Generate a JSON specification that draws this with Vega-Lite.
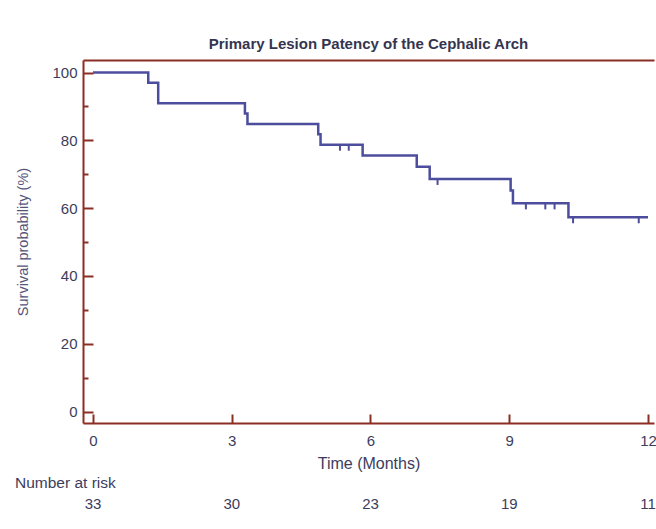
{
  "$schema": "https://vega.github.io/schema/vega-lite/v6.json",
  "padding": {"left": 15, "top": 37, "right": 0, "bottom": 0},
  "background": "white",
  "spacing": 4,
  "config": {
    "font": "Liberation Sans",
    "view": {"stroke": null},
    "axis": {"labelFont": "Liberation Sans", "titleFont": "Liberation Sans", "grid": false}
  },
  "datasets": {
    "curve": [
      {"time": 0, "surv": 100},
      {"time": 1.195, "surv": 97.0},
      {"time": 1.41, "surv": 90.9},
      {"time": 3.285, "surv": 87.9},
      {"time": 3.34, "surv": 84.8},
      {"time": 4.87, "surv": 81.8},
      {"time": 4.92, "surv": 78.7},
      {"time": 5.83, "surv": 75.5},
      {"time": 7.0, "surv": 72.2},
      {"time": 7.28, "surv": 68.6},
      {"time": 9.03, "surv": 65.2},
      {"time": 9.08, "surv": 61.4},
      {"time": 10.28, "surv": 57.3},
      {"time": 12.0, "surv": 57.3}
    ],
    "censor": [
      {"time": 5.34, "surv": 78.7},
      {"time": 5.53, "surv": 78.7},
      {"time": 7.45, "surv": 68.6},
      {"time": 9.36, "surv": 61.4},
      {"time": 9.78, "surv": 61.4},
      {"time": 9.98, "surv": 61.4},
      {"time": 10.38, "surv": 57.3},
      {"time": 11.8, "surv": 57.3}
    ],
    "risk": [
      {"time": 0, "n": 33},
      {"time": 3, "n": 30},
      {"time": 6, "n": 23},
      {"time": 9, "n": 19},
      {"time": 12, "n": 11}
    ]
  },
  "vconcat": [
    {
      "width": 571,
      "height": 363,
      "title": {
        "text": "Primary Lesion Patency of the Cephalic Arch",
        "fontSize": 15,
        "fontWeight": "bold",
        "color": "#35354f",
        "offset": 8,
        "anchor": "middle"
      },
      "layer": [
        {
          "data": {"name": "curve"},
          "mark": {"type": "line", "interpolate": "step-after", "color": "#4d4d9e", "strokeWidth": 2.5},
          "encoding": {
            "x": {
              "field": "time",
              "type": "quantitative",
              "scale": {"domain": [-0.216, 12.13], "nice": false, "zero": false},
              "axis": {
                "orient": "bottom",
                "values": [0, 3, 6, 9, 12],
                "tickSize": -9,
                "tickColor": "#8b2e24",
                "tickWidth": 2,
                "domainColor": "#8b2e24",
                "domainWidth": 2,
                "labelPadding": 19,
                "labelFontSize": 15,
                "labelColor": "#3c3c5c",
                "labelFlush": false,
                "title": "Time (Months)",
                "titleFontSize": 16,
                "titleFontWeight": "normal",
                "titleColor": "#3c3c5c",
                "titlePadding": 7
              }
            },
            "y": {
              "field": "surv",
              "type": "quantitative",
              "scale": {"domain": [-3.39, 103.69], "nice": false, "zero": false},
              "axis": {
                "orient": "left",
                "values": [0, 20, 40, 60, 80, 100],
                "tickSize": -10,
                "tickColor": "#8b2e24",
                "tickWidth": 2,
                "domainColor": "#8b2e24",
                "domainWidth": 2,
                "labelPadding": 16,
                "labelFontSize": 15,
                "labelColor": "#3c3c5c",
                "labelFlush": false,
                "title": "Survival probability (%)",
                "titleFontSize": 14.5,
                "titleFontWeight": "normal",
                "titleColor": "#55557a",
                "titlePadding": 21
              }
            }
          }
        },
        {
          "data": {"name": "censor"},
          "mark": {"type": "point", "shape": "M0,0V1", "filled": false, "color": "#4d4d9e", "strokeWidth": 2, "size": 144, "opacity": 1},
          "encoding": {
            "x": {
              "field": "time",
              "type": "quantitative",
              "axis": {"orient": "top", "labels": false, "ticks": false, "title": null, "domainColor": "#8b2e24", "domainWidth": 2}
            },
            "y": {
              "field": "surv",
              "type": "quantitative",
              "axis": {
                "orient": "left",
                "values": [10, 30, 50, 70, 90],
                "labels": false,
                "domain": false,
                "title": null,
                "tickSize": -5,
                "tickColor": "#8b2e24",
                "tickWidth": 2
              }
            }
          }
        }
      ],
      "resolve": {"axis": {"x": "independent", "y": "independent"}}
    },
    {
      "width": 571,
      "height": 22,
      "title": {
        "text": "Number at risk",
        "anchor": "start",
        "dx": -68,
        "fontSize": 15.5,
        "fontWeight": "normal",
        "color": "#3c3c5c",
        "offset": 2
      },
      "data": {"name": "risk"},
      "mark": {"type": "text", "fontSize": 15, "color": "#3c3c5c", "font": "Liberation Sans"},
      "encoding": {
        "x": {
          "field": "time",
          "type": "quantitative",
          "scale": {"domain": [-0.216, 12.13], "nice": false, "zero": false},
          "axis": null
        },
        "text": {"field": "n"}
      }
    }
  ]
}
